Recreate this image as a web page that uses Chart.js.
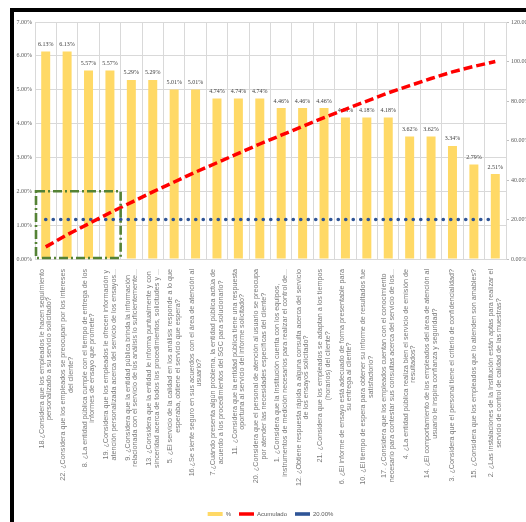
<!DOCTYPE html>
<html>
<head>
<meta charset="utf-8">
<script src="https://cdn.jsdelivr.net/npm/chart.js@4.4.1/dist/chart.umd.min.js"></script>
<style>
  html, body { margin: 0; padding: 0; background: #fff; overflow: hidden; }
  #marco { position: absolute; left: 10px; top: 8px; width: 512px; height: 514px; border-top: 4px solid #000; border-left: 4px solid #000; }
  #grafico { position: absolute; left: 0; top: 0; }
</style>
</head>
<body>
<div id="marco"></div>
<canvas id="grafico" width="526" height="529"></canvas>
<script>
// preguntas de la encuesta, ordenadas de mayor a menor frecuencia
const preguntas = [
  ['18.¿Considera que los empleados le hacen seguimiento', 'personalizado a su servicio solicitado?'],
  ['22. ¿Considera que los empleados se preocupan por los intereses', 'del cliente?'],
  ['8. ¿La entidad pública cumple con el tiempo de entrega de los', 'informes de ensayo que promete?'],
  ['19. ¿Considera que los empleados le ofrecen información y', 'atención personalizada acerca del servicio de los ensayos...'],
  ['9. ¿Considera que la entidad pública brinda la información', 'relacionada con el servicio de los análisis lo suficientemente...'],
  ['13. ¿Considera que la entidad le informa puntualmente y con', 'sinceridad acerca de todos los procedimientos, solicitudes y ...'],
  ['5. ¿El servicio de la calidad en los análisis responde a lo que', 'esperaba, obtiene el servicio que espera?'],
  ['16.¿Se siente seguro en sus acuerdos con el área de atención al', 'usuario?'],
  ['7.¿Cuándo presenta algún problema, la entidad pública actúa de', 'acuerdo a los procedimientos del SGC para solucionarlo?'],
  ['11. ¿Considera que la entidad pública tiene una respuesta', 'oportuna al servicio del informe solicitado?'],
  ['20. ¿Considera que el personal de atención al usuario se preocupa', 'por atender las necesidades específicas del cliente?'],
  ['1. ¿Considera que la Institución cuenta con los equipos,', 'instrumentos de medición necesarios para realizar el control de...'],
  ['12. ¿Obtiene respuesta rápida a alguna consulta acerca del servicio', 'de los ensayos solicitado?'],
  ['21. ¿Considera que los empleados se adaptan a los tiempos', '(horarios) del cliente?'],
  ['6. ¿El informe de ensayo está adecuado de forma presentable para', 'su entrega al cliente?'],
  ['10. ¿El tiempo de espera para obtener su informe de resultados fue', 'satisfactorio?'],
  ['17. ¿Considera que los empleados cuentan con el conocimiento', 'necesario para contestar sus consultas acerca del servicio de los...'],
  ['4. ¿La entidad pública realiza bien el servicio de emisión de', 'resultados?'],
  ['14. ¿El comportamiento de los empleados del área de atención al', 'usuario le inspira confianza y seguridad?'],
  ['3. ¿Considera que el personal tiene el criterio de confidencialidad?'],
  ['15. ¿Considera que los empleados que lo atienden son amables?'],
  ['2. ¿Las instalaciones de la Institución están aptas para realizar el', 'servicio de control de calidad de las muestras?']
];

const porcentaje = [6.13, 6.13, 5.57, 5.57, 5.29, 5.29, 5.01, 5.01, 4.74, 4.74, 4.74,
  4.46, 4.46, 4.46, 4.18, 4.18, 4.18, 3.62, 3.62, 3.34, 2.79, 2.51];
const acumulado = [6.13, 12.26, 17.83, 23.40, 28.69, 33.98, 38.99, 44.00, 48.74, 53.48, 58.22,
  62.68, 67.14, 71.60, 75.78, 79.96, 84.14, 87.76, 91.38, 94.72, 97.51, 100.00];
const umbral = [20, 20, 20, 20, 20, 20, 20, 20, 20, 20, 20,
  20, 20, 20, 20, 20, 20, 20, 20, 20, 20, 20];

const ticksIzq = [0, 1, 2, 3, 4, 5, 6, 7];
const ticksDer = [0, 20, 40, 60, 80, 100, 120];

const gris = '#d9d9d9';
const fuenteEje = { family: '"Liberation Serif", serif', size: 6 };

// etiquetas de categoría giradas, con las líneas centradas entre sí
const etiquetasX = {
  id: 'etiquetasX',
  afterDraw(chart) {
    const { ctx } = chart;
    const x = chart.scales.x;
    ctx.save();
    ctx.font = '7.2px "Liberation Sans", sans-serif';
    ctx.fillStyle = '#7a7a7a';
    ctx.textAlign = 'center';
    ctx.textBaseline = 'middle';
    preguntas.forEach((lineas, i) => {
      const px = x.getPixelForTick(i);
      const largo = Math.max(...lineas.map(l => ctx.measureText(l).width));
      ctx.save();
      ctx.translate(px, x.top + 10);
      ctx.rotate(-Math.PI / 2);
      lineas.forEach((l, j) => ctx.fillText(l, -largo / 2, (j - (lineas.length - 1) / 2) * 7.6));
      ctx.restore();
    });
    ctx.restore();
  }
};

// valor encima de cada barra
const etiquetasBarras = {
  id: 'etiquetasBarras',
  afterDatasetDraw(chart, args) {
    if (args.index !== 0) return;
    const { ctx } = chart;
    ctx.save();
    ctx.font = '6px "Liberation Serif", serif';
    ctx.fillStyle = '#404040';
    ctx.textAlign = 'center';
    ctx.textBaseline = 'bottom';
    args.meta.data.forEach((bar, i) => {
      ctx.fillText(porcentaje[i].toFixed(2) + '%', bar.x, bar.y - 4);
    });
    ctx.restore();
  }
};

// recuadro verde sobre las cuatro primeras preguntas, hasta el 2 %
const recuadro = {
  id: 'recuadro',
  afterDatasetsDraw(chart) {
    const { ctx } = chart;
    const { x, y } = chart.scales;
    const x0 = x.getPixelForValue(-0.5);
    const x1 = x.getPixelForValue(3.5);
    const y0 = y.getPixelForValue(2);
    const y1 = y.getPixelForValue(0);
    ctx.save();
    ctx.strokeStyle = '#548235';
    ctx.lineWidth = 2.6;
    ctx.setLineDash([9, 3, 2, 3]);
    ctx.strokeRect(x0 + 1, y0, x1 - x0 - 1, y1 - y0 - 1);
    ctx.restore();
  }
};

new Chart(document.getElementById('grafico'), {
  type: 'bar',
  data: {
    labels: preguntas,
    datasets: [
      {
        label: '%',
        data: porcentaje,
        backgroundColor: '#FFD966',
        borderWidth: 0,
        barPercentage: 0.42,
        categoryPercentage: 1,
        pointStyle: 'rect',
        yAxisID: 'y',
        order: 3
      },
      {
        type: 'line',
        label: 'Acumulado',
        data: acumulado,
        borderColor: '#FF0000',
        backgroundColor: '#FF0000',
        borderWidth: 3.5,
        borderDash: [9, 4],
        pointRadius: 0,
        pointStyle: 'line',
        tension: 0,
        yAxisID: 'y1',
        order: 1
      },
      {
        type: 'line',
        label: '20.00%',
        data: umbral,
        borderColor: '#2F5597',
        backgroundColor: '#2F5597',
        borderWidth: 3.6,
        borderDash: [0.1, 7.4],
        borderCapStyle: 'round',
        pointRadius: 0,
        pointStyle: 'line',
        yAxisID: 'y1',
        order: 2
      }
    ]
  },
  options: {
    responsive: false,
    animation: false,
    layout: { padding: { top: 22, left: 0, right: 0, bottom: 2 } },
    plugins: {
      tooltip: { enabled: false },
      legend: {
        position: 'bottom',
        fullSize: false,
        labels: {
          usePointStyle: true,
          pointStyleWidth: 15,
          boxHeight: 4,
          padding: 8,
          color: '#595959',
          font: { family: '"Liberation Sans", sans-serif', size: 6 },
          sort: (a, b) => a.datasetIndex - b.datasetIndex
        }
      }
    },
    scales: {
      x: {
        offset: true,
        grid: { color: gris, drawTicks: false, offset: true },
        border: { color: gris },
        ticks: { display: false },
        afterFit: s => { s.height = 244; }
      },
      y: {
        position: 'left',
        min: 0,
        max: 7,
        afterBuildTicks: s => { s.ticks = ticksIzq.map(v => ({ value: v })); },
        ticks: { callback: v => v.toFixed(2) + '%', font: fuenteEje, color: '#595959', padding: 3 },
        grid: { color: gris, drawTicks: false },
        border: { color: gris },
        afterFit: s => { s.width = 35; }
      },
      y1: {
        position: 'right',
        min: 0,
        max: 120,
        afterBuildTicks: s => { s.ticks = ticksDer.map(v => ({ value: v })); },
        ticks: { callback: v => v.toFixed(2) + '%', font: fuenteEje, color: '#595959', padding: 2 },
        grid: { drawOnChartArea: false, color: '#bfbfbf', tickLength: 3 },
        border: { color: gris },
        afterFit: s => { s.width = 20; }
      }
    }
  },
  plugins: [etiquetasBarras, recuadro, etiquetasX]
});
</script>
</body>
</html>
